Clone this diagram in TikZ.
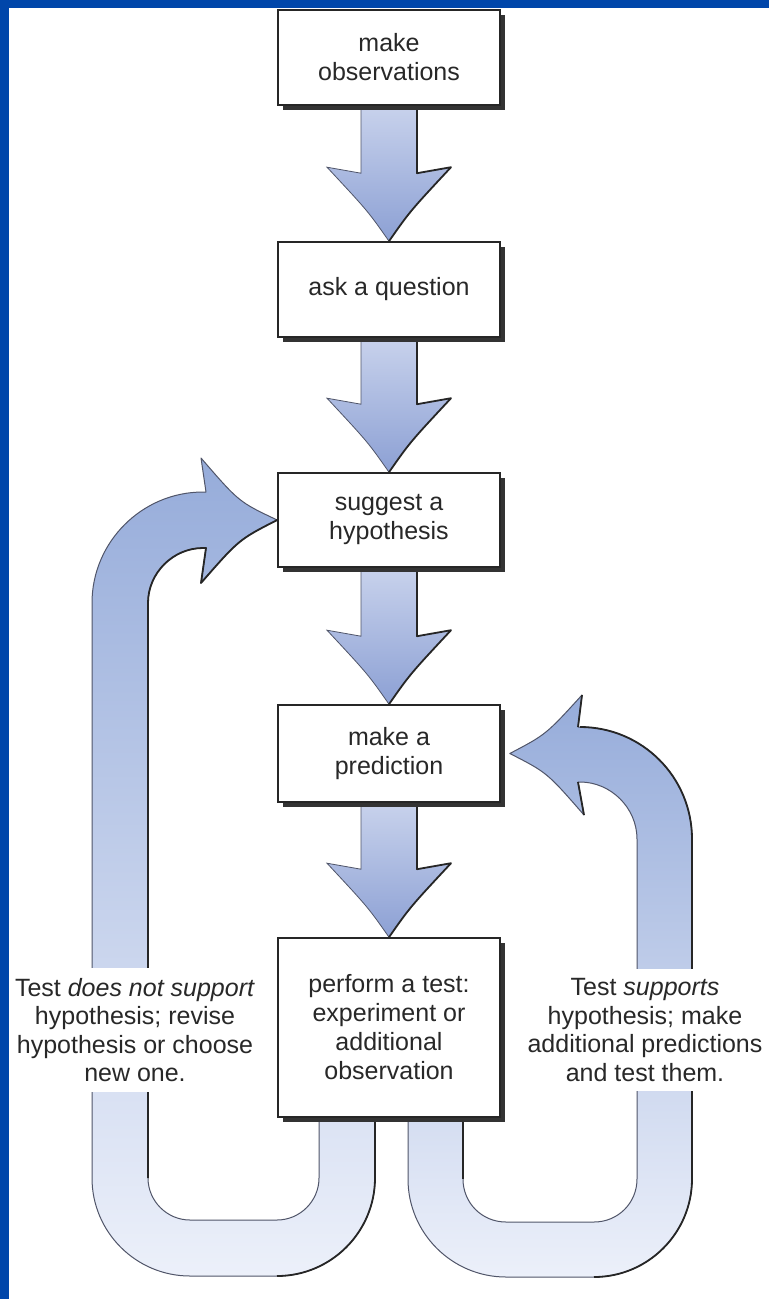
\documentclass[tikz,border=0pt]{standalone}
\usepackage{fontspec}
\setmainfont{Liberation Sans}
\usetikzlibrary{calc,shadows}
\pgfdeclarelayer{bg}
\pgfsetlayers{bg,main}
\definecolor{frameblue}{RGB}{0,70,170}
\definecolor{arrTop}{RGB}{200,210,236}
\definecolor{arrBot}{RGB}{140,160,212}
\definecolor{loopTop}{RGB}{150,172,218}
\definecolor{loopBot}{RGB}{236,240,250}
\definecolor{edgecol}{RGB}{80,85,105}
\definecolor{txtcol}{RGB}{40,40,40}

\newcommand\flowarrow[2]{%
 \begin{scope}[shift={(#2.north)}]
  \path[top color=arrTop, bottom color=arrBot]
   ([xshift=-28pt]#1.south) -- (-28,-68) -- (-62,-74) .. controls (-21,-30) .. (0,0)
   .. controls (21,-30) .. (62,-74) -- (28,-68) -- ([xshift=28pt]#1.south) -- cycle;
  \draw[edgecol, line width=0.8pt] ([xshift=-28pt]#1.south) -- (-28,-68) -- (-62,-74) .. controls (-21,-30) .. (0,0);
  \draw[darkedge] ([xshift=28pt]#1.south) -- (28,-68) -- (62,-74) .. controls (21,-30) .. (0,0);
 \end{scope}}

\begin{document}
\begin{tikzpicture}[x=1pt,y=-1pt,
  boxstyle/.style={draw=black!85, line width=1.6pt, fill=white, minimum width=222pt,
    align=center, font=\fontsize{25}{29}\selectfont, text=txtcol, inner sep=0pt,
    drop shadow={shadow xshift=5pt, shadow yshift=-5pt, fill=black!80, opacity=1}},
  notestyle/.style={fill=white, align=center, font=\fontsize{25}{28.5}\selectfont,
    text=txtcol, inner xsep=2pt, inner ysep=10pt},
  darkedge/.style={draw=black!85, line width=1.8pt, line join=round},
  loopstyle/.style={top color=loopTop, bottom color=loopBot, draw=edgecol, line width=1pt, line join=round}
]
\begin{pgfonlayer}{bg}
\fill[frameblue] (0,0) rectangle (769,1299);
\fill[white] (9,8) rectangle (769,1299);
\end{pgfonlayer}
\useasboundingbox (0,0) rectangle (769,1299);

% boxes
\node[boxstyle, minimum height=95pt] (b1) at (389,57.5) {make\\observations};
\node[boxstyle, minimum height=95pt] (b2) at (389,289.5) {ask a question};
\node[boxstyle, minimum height=94pt] (b3) at (389,520) {suggest a\\hypothesis};
\node[boxstyle, minimum height=97pt] (b4) at (389,753.5) {make a\\prediction};
\node[boxstyle, minimum height=179pt] (b5) at (389,1027.5) {perform a test:\\experiment or\\additional\\observation};

% side notes
\node[notestyle] (nl) at (135,1030) {Test \textit{does not support}\\hypothesis; revise\\hypothesis or choose\\new one.};
\node[notestyle] (nr) at (645,1030) {Test \textit{supports}\\hypothesis; make\\additional predictions\\and test them.};

\coordinate (tipL) at (b3.west);
\coordinate (tipR) at ([xshift=9pt]b4.east);

\begin{pgfonlayer}{bg}
% straight arrows
\flowarrow{b1}{b2}
\flowarrow{b2}{b3}
\flowarrow{b3}{b4}
\flowarrow{b4}{b5}

% left loop: test does not support -> suggest a hypothesis
\path[loopstyle]
 (375,1090) -- (375,1178)
 .. controls (375,1232) and (331,1276) .. (277,1276)
 -- (190,1276)
 .. controls (136,1276) and (92,1232) .. (92,1178)
 -- (92,603)
 .. controls (92,542) and (142,492) .. (203,492)
 -- (206,492) -- (201,458)
 .. controls (239,502) .. (tipL)
 .. controls (239,539.5) .. (201,583)
 -- (206,548) -- (203,548)
 .. controls (173,548) and (148,573) .. (148,603)
 -- (148,1178)
 .. controls (148,1201) and (167,1220) .. (190,1220)
 -- (277,1220)
 .. controls (300,1220) and (319,1201) .. (319,1178)
 -- (319,1090) -- cycle;
\draw[darkedge] (tipL) .. controls (239,539.5) .. (201,583) -- (206,548) -- (203,548)
 .. controls (173,548) and (148,573) .. (148,603) -- (148,1178);
\draw[darkedge] (375,1100) -- (375,1178) .. controls (375,1232) and (331,1276) .. (277,1276);

% right loop: test supports -> make a prediction
\path[loopstyle]
 (408,1090) -- (408,1179)
 .. controls (408,1233) and (452,1277) .. (506,1277)
 -- (594,1277)
 .. controls (648,1277) and (692,1233) .. (692,1179)
 -- (692,839)
 .. controls (692,777) and (642,727) .. (580,727)
 -- (578,727) -- (582,695)
 .. controls (546,734.5) .. (tipR)
 .. controls (547,772.5) .. (584,815)
 -- (578,782) -- (580,782)
 .. controls (611,782) and (637,808) .. (637,839)
 -- (637,1179)
 .. controls (637,1203) and (618,1222) .. (594,1222)
 -- (506,1222)
 .. controls (482,1222) and (463,1203) .. (463,1179)
 -- (463,1090) -- cycle;
\draw[darkedge] (578,727) -- (582,695);
\draw[darkedge] (584,815) -- (578,782);
\draw[darkedge] (580,727) .. controls (642,727) and (692,777) .. (692,839) -- (692,1179)
 .. controls (692,1233) and (648,1277) .. (594,1277);
\draw[darkedge] (463,1100) -- (463,1179);
\end{pgfonlayer}
\end{tikzpicture}
\end{document}
